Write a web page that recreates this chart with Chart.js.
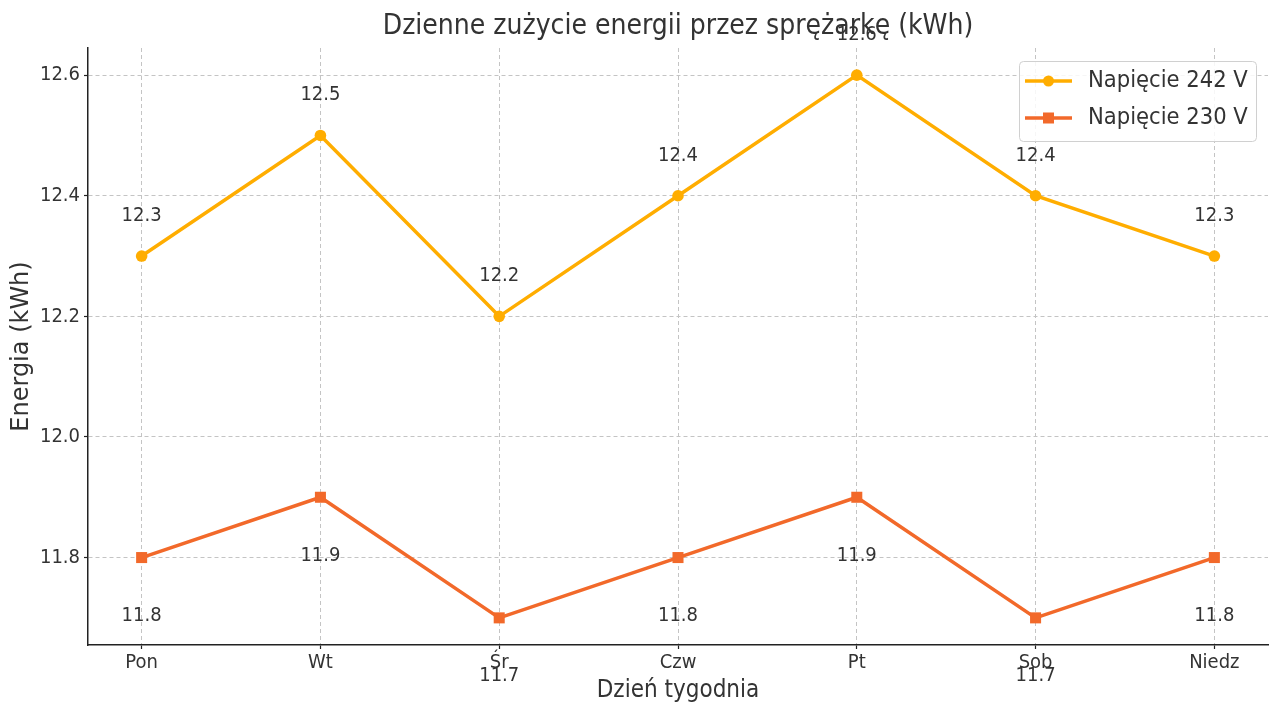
<!DOCTYPE html>
<html lang="pl">
<head>
<meta charset="UTF-8">
<title>Zużycie energii</title>
<script src="https://cdn.jsdelivr.net/npm/chart.js"></script>
<style>
  html, body { margin: 0; padding: 0; background: #fff; }
  #wrap { width: 1280px; height: 720px; }
</style>
</head>
<body>
<div id="wrap"><canvas id="chart" width="1280" height="720"></canvas></div>
<script>
// data
const days = ['Pon', 'Wt', 'Śr', 'Czw', 'Pt', 'Sob', 'Niedz'];
const v242 = [12.3, 12.5, 12.2, 12.4, 12.6, 12.4, 12.3];
const v230 = [11.8, 11.9, 11.7, 11.8, 11.9, 11.7, 11.8];
const yTicks = [11.8, 12.0, 12.2, 12.4, 12.6];

const FONT = '"DejaVu Sans Condensed", "DejaVu Sans", sans-serif';
const col242 = '#ffad00';
const col230 = '#f2692a';

// titles, value labels and legend drawn by hand
const extras = {
    id: 'extras',
    afterDatasetsDraw(chart) {
        const ctx = chart.ctx;
        const area = chart.chartArea;
        const y = chart.scales.y;
        const x = chart.scales.x;
        ctx.save();
        ctx.fillStyle = '#333';

        // value labels
        ctx.font = '20px ' + FONT;
        ctx.textAlign = 'center';
        ctx.textBaseline = 'bottom';
        v242.forEach((v, i) => {
            ctx.fillText(v.toFixed(1), x.getPixelForValue(i), y.getPixelForValue(v + 0.05));
        });
        ctx.textBaseline = 'top';
        v230.forEach((v, i) => {
            ctx.fillText(v.toFixed(1), x.getPixelForValue(i), y.getPixelForValue(v - 0.08));
        });

        // title
        ctx.font = '28px ' + FONT;
        ctx.textBaseline = 'middle';
        ctx.fillText('Dzienne zużycie energii przez sprężarkę (kWh)', (area.left + area.right) / 2, 27);

        // x axis title
        ctx.font = '24px ' + FONT;
        ctx.fillText('Dzień tygodnia', (area.left + area.right) / 2, 691);

        // y axis title
        ctx.save();
        ctx.translate(22, (area.top + area.bottom) / 2);
        ctx.rotate(-Math.PI / 2);
        ctx.font = '24px "DejaVu Sans", sans-serif';
        ctx.fillText('Energia (kWh)', 0, 0);
        ctx.restore();

        // legend
        const lx = 1019, ly = 61, lw = 237, lh = 80;
        ctx.fillStyle = 'rgba(255,255,255,0.85)';
        ctx.strokeStyle = '#d0d0d0';
        ctx.lineWidth = 1;
        ctx.beginPath();
        ctx.roundRect(lx + 0.5, ly + 0.5, lw, lh, 4);
        ctx.fill();
        ctx.stroke();
        const rows = [
            { label: 'Napięcie 242 V', color: col242, square: false, yy: 81 },
            { label: 'Napięcie 230 V', color: col230, square: true, yy: 118 }
        ];
        rows.forEach(r => {
            ctx.strokeStyle = r.color;
            ctx.fillStyle = r.color;
            ctx.lineWidth = 3.5;
            ctx.beginPath();
            ctx.moveTo(1025, r.yy);
            ctx.lineTo(1072, r.yy);
            ctx.stroke();
            if (r.square) {
                ctx.fillRect(1043, r.yy - 5.5, 11, 11);
            } else {
                ctx.beginPath();
                ctx.arc(1048.5, r.yy, 5.5, 0, Math.PI * 2);
                ctx.fill();
            }
            ctx.fillStyle = '#333';
            ctx.font = '23.5px ' + FONT;
            ctx.textAlign = 'left';
            ctx.textBaseline = 'middle';
            ctx.fillText(r.label, 1088, r.yy);
        });
        ctx.restore();
    }
};

new Chart(document.getElementById('chart'), {
    type: 'line',
    data: {
        datasets: [
            {
                label: 'Napięcie 242 V',
                data: v242.map((v, i) => ({ x: i, y: v })),
                borderColor: col242,
                backgroundColor: col242,
                borderWidth: 3.5,
                pointStyle: 'circle',
                pointRadius: 5.8,
                pointBorderWidth: 0,
                pointHoverRadius: 5.8,
                tension: 0
            },
            {
                label: 'Napięcie 230 V',
                data: v230.map((v, i) => ({ x: i, y: v })),
                borderColor: col230,
                backgroundColor: col230,
                borderWidth: 3.5,
                pointStyle: 'rect',
                pointRadius: 7.8,
                pointBorderWidth: 0,
                pointHoverRadius: 7.8,
                tension: 0
            }
        ]
    },
    options: {
        responsive: false,
        animation: false,
        events: [],
        layout: { padding: { top: 48, right: 12, left: 0, bottom: 0 } },
        plugins: {
            legend: { display: false },
            title: { display: false },
            tooltip: { enabled: false }
        },
        scales: {
            x: {
                type: 'linear',
                min: -0.3,
                max: 6.3,
                afterBuildTicks(scale) {
                    scale.ticks = days.map((d, i) => ({ value: i }));
                },
                afterFit(scale) { scale.height = 75; },
                ticks: {
                    autoSkip: false,
                    maxRotation: 0,
                    padding: 2,
                    color: '#333',
                    font: { family: FONT, size: 20 },
                    callback: (v) => days[v]
                },
                grid: {
                    color: '#c4c4c4',
                    lineWidth: 1,
                    tickColor: '#222',
                    tickLength: 4,
                    tickWidth: 1.2
                },
                border: { color: '#222', width: 1.5, dash: [4, 3] }
            },
            y: {
                min: 11.655,
                max: 12.645,
                afterBuildTicks(scale) {
                    scale.ticks = yTicks.map(v => ({ value: v }));
                },
                afterFit(scale) { scale.width = 88; },
                ticks: {
                    padding: 4,
                    color: '#333',
                    font: { family: FONT, size: 20 },
                    callback: (v) => v.toFixed(1)
                },
                grid: {
                    color: '#c4c4c4',
                    lineWidth: 1,
                    tickColor: '#222',
                    tickLength: 4,
                    tickWidth: 1.2
                },
                border: { color: '#222', width: 1.5, dash: [4, 3] }
            }
        }
    },
    plugins: [extras]
});
</script>
</body>
</html>
